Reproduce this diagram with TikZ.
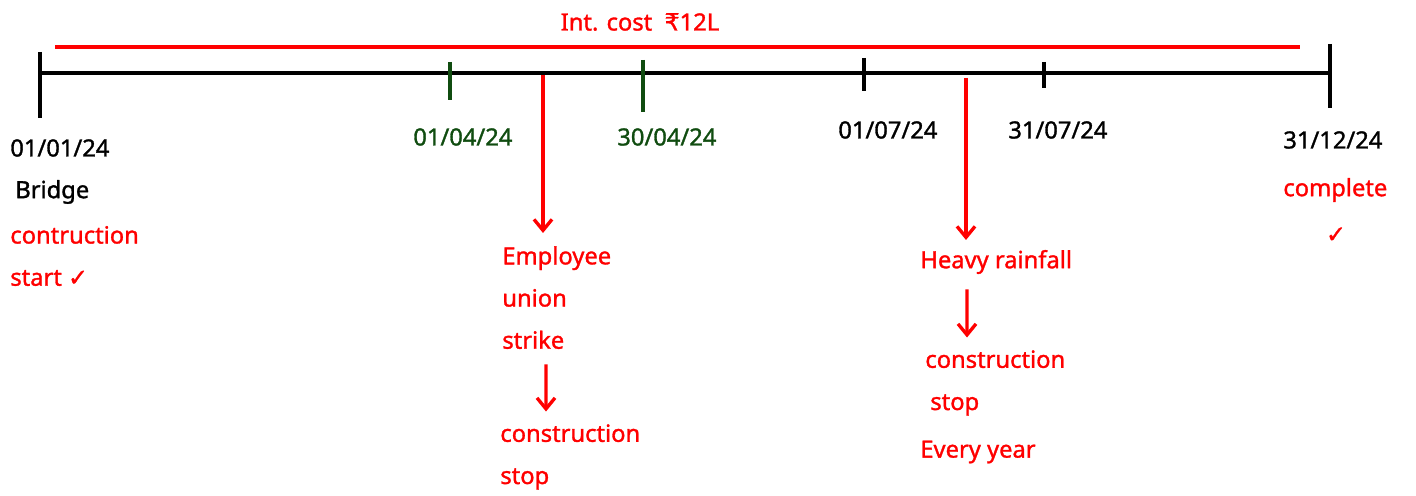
\documentclass[tikz,border=0pt]{standalone}
\usepackage{fontspec}
\setmainfont{Noto Sans}[AutoFakeBold=1.3]
\newfontfamily\symfont{DejaVu Sans}[AutoFakeBold=1.3]
\usetikzlibrary{arrows.meta, positioning}
\definecolor{colorRed}{RGB}{255, 0, 0}
\definecolor{colorGreen}{RGB}{16, 76, 16}
\tikzstyle{timeline} = [line width=2pt, black]
\tikzstyle{tick} = [line width=2.2pt, black]
\tikzstyle{gtick} = [line width=2.2pt, colorGreen]
\tikzstyle{costline} = [line width=2.2pt, colorRed]
\tikzstyle{date} = [anchor=west, inner sep=0pt, font=\fontsize{13.5}{24}\selectfont\bfseries]
\tikzstyle{note} = [anchor=west, inner sep=0pt, align=left, text=colorRed, font=\fontsize{13.5}{24}\selectfont\bfseries]
\tikzstyle{arrow} = [line width=1.9pt, colorRed, -{Straight Barb[length=2.2mm, width=3.6mm]}]

\begin{document}
\begin{tikzpicture}[x=0.02cm, y=-0.02cm]
	\useasboundingbox (0,0) rectangle (1416,496);

	% cost bar
	\node (cost)[note, anchor=center] at (640,22) {Int. cost \ {\symfont ₹}12L};
	\coordinate (costStart) at (55,47);
	\coordinate (costEnd) at (1300,47);
	\draw[costline] (costStart) -- (costEnd);

	% timeline
	\coordinate (tStart) at (40,73);
	\coordinate (tEnd) at (1332,73);
	\coordinate (tStrike) at (543,75);
	\coordinate (tRain) at (966,78);
	\draw[timeline] (tStart) -- (tEnd);

	% ticks
	\draw[tick] (40,52) -- (40,118);
	\draw[tick] (1330,44) -- (1330,108);
	\foreach \x/\a/\b in {864/58/91, 1044/62/88}
		\draw[tick] (\x,\a) -- (\x,\b);
	\foreach \x/\a/\b in {450/62/100, 643/60/112}
		\draw[gtick] (\x,\a) -- (\x,\b);

	% dates
	\node (d0101)[date] at (10,148) {01/01/24};
	\node (d0104)[date, text=colorGreen] at (413,137) {01/04/24};
	\node (d3004)[date, text=colorGreen] at (617,137) {30/04/24};
	\node (d0107)[date] at (838,130) {01/07/24};
	\node (d3107)[date] at (1008,130) {31/07/24};
	\node (d3112)[date] at (1283,140) {31/12/24};

	% start
	\node (bridge)[date] at (15,192) {Bridge};
	\node (startNote)[note] at (10,256) {contruction\\start {\symfont ✓}};

	% strike
	\node (strike)[note, anchor=north west] at (502,246) {Employee\\union\\strike};
	\node (stopA)[note, anchor=north west] at (500,424) {construction\\stop};

	% rain
	\node (rain)[note] at (920,262) {Heavy rainfall};
	\node (stopB)[note, anchor=north west] at (925,350) {construction\\\hspace{0.1cm}stop};
	\node (everyYear)[note] at (920,452) {Every year};

	% complete
	\node (complete)[note] at (1283,190) {complete};
	\node (doneTick)[note, anchor=center] at (1336,235) {\symfont ✓};

	% arrows
	\draw[arrow] (tStrike) -- (543,233);
	\draw[arrow] (tRain) -- (966,240);
	\draw[arrow] ([xshift=0.88cm, yshift=-0.3cm]strike.south west) -- ([xshift=0.92cm, yshift=0.25cm]stopA.north west);
	\draw[arrow] ([xshift=0.94cm, yshift=-0.55cm]rain.west) -- ([xshift=0.84cm, yshift=0.25cm]stopB.north west);

\end{tikzpicture}
\end{document}
